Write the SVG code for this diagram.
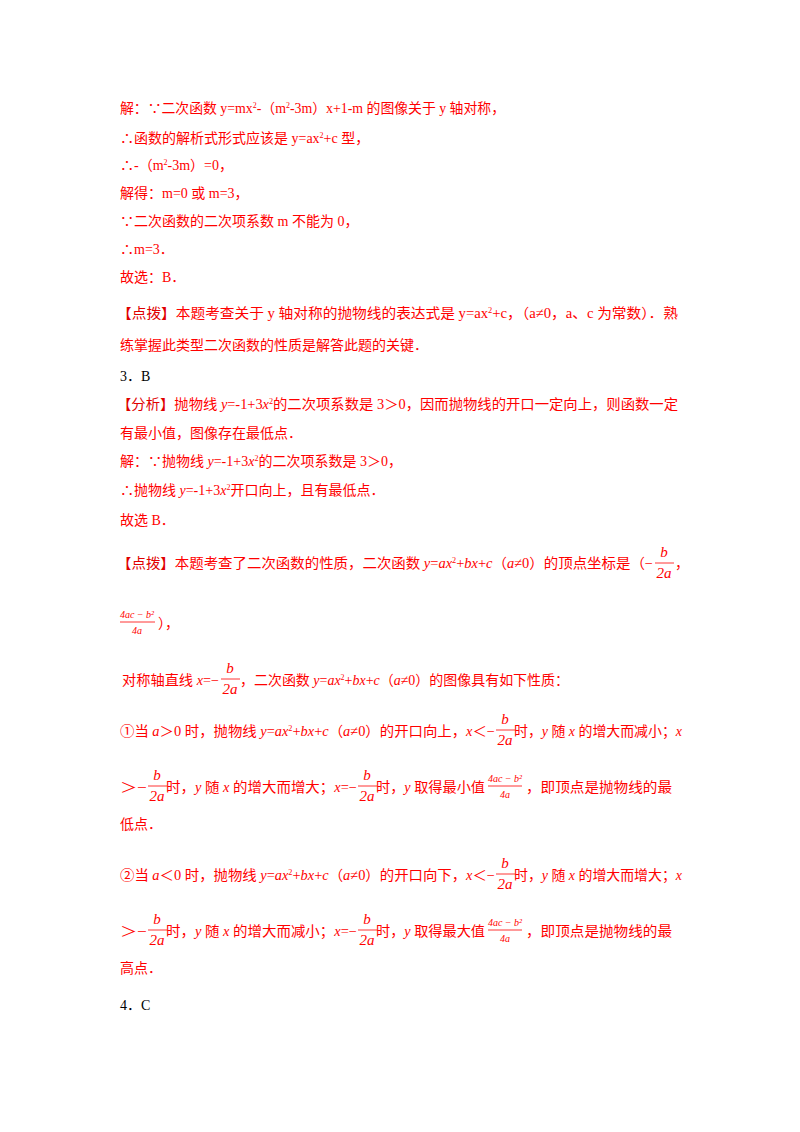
<svg xmlns="http://www.w3.org/2000/svg" width="800" height="1132" viewBox="0 0 800 1132">
<style>
text{font-family:"Liberation Serif","Noto Sans CJK SC",serif;font-size:14px;fill:#ff0000}
.k{fill:#000}
.i{font-style:italic}
.f{font-size:15px;text-anchor:middle;font-style:italic}
.s{font-size:10px;text-anchor:middle;font-style:italic}
.b{fill:#e00000}
line{stroke:#ff0000;stroke-width:0.8}
</style>
<rect width="800" height="1132" fill="#fff"/>
<text x="120" y="113" textLength="385" lengthAdjust="spacingAndGlyphs">解：∵二次函数 y=mx<tspan dy="-5" font-size="8">2</tspan><tspan dy="5">-（m</tspan><tspan dy="-5" font-size="8">2</tspan><tspan dy="5">-3m）x+1-m 的图像关于 y 轴对称，</tspan></text>
<text x="120" y="143">∴函数的解析式形式应该是 y=ax<tspan dy="-5" font-size="8">2</tspan><tspan dy="5">+c 型，</tspan></text>
<text x="120" y="170">∴-（m<tspan dy="-5" font-size="8">2</tspan><tspan dy="5">-3m）=0，</tspan></text>
<text x="120" y="198">解得：m=0 或 m=3，</text>
<text x="120" y="226">∵二次函数的二次项系数 m 不能为 0，</text>
<text x="120" y="254">∴m=3．</text>
<text x="120" y="282">故选：B．</text>
<text x="117" y="318" textLength="561" lengthAdjust="spacingAndGlyphs"><tspan class="b">【点拨】</tspan>本题考查关于 y 轴对称的抛物线的表达式是 y=ax<tspan dy="-5" font-size="8">2</tspan><tspan dy="5">+c，（a≠0，a、c 为常数）．熟</tspan></text>
<text x="120" y="350">练掌握此类型二次函数的性质是解答此题的关键．</text>
<text x="120" y="381" class="k">3．B</text>
<text x="117" y="409" textLength="561" lengthAdjust="spacingAndGlyphs"><tspan class="b">【分析】</tspan>抛物线 <tspan class="i">y</tspan>=-1+3<tspan class="i">x</tspan><tspan dy="-5" font-size="8">2</tspan><tspan dy="5">的二次项系数是 3＞0，因而抛物线的开口一定向上，则函数一定</tspan></text>
<text x="120" y="438">有最小值，图像存在最低点．</text>
<text x="120" y="466">解：∵抛物线 <tspan class="i">y</tspan>=-1+3<tspan class="i">x</tspan><tspan dy="-5" font-size="8">2</tspan><tspan dy="5">的二次项系数是 3＞0，</tspan></text>
<text x="120" y="495">∴抛物线 <tspan class="i">y</tspan>=-1+3<tspan class="i">x</tspan><tspan dy="-5" font-size="8">2</tspan><tspan dy="5">开口向上，且有最低点．</tspan></text>
<text x="120" y="525">故选 B．</text>

<text x="117" y="568" textLength="536" lengthAdjust="spacingAndGlyphs"><tspan class="b">【点拨】</tspan>本题考查了二次函数的性质，二次函数 <tspan class="i">y</tspan>=<tspan class="i">ax</tspan><tspan dy="-5" font-size="8">2</tspan><tspan dy="5">+</tspan><tspan class="i">bx</tspan>+<tspan class="i">c</tspan>（<tspan class="i">a</tspan>≠0）的顶点坐标是（−</text>
<text x="664" y="557" class="f">b</text><line x1="655" y1="563" x2="674" y2="563"/><text x="664" y="578" class="f">2a</text>
<text x="675" y="568">，</text>

<text x="137" y="618" class="s">4ac − b²</text><line x1="120" y1="622" x2="155" y2="622"/><text x="137" y="634" class="s">4a</text>
<text x="158" y="628">），</text>

<text x="122" y="685" textLength="97" lengthAdjust="spacingAndGlyphs">对称轴直线 <tspan class="i">x</tspan>=−</text>
<text x="230" y="673" class="f">b</text><line x1="221" y1="679" x2="240" y2="679"/><text x="230" y="694" class="f">2a</text>
<text x="240" y="685" textLength="329" lengthAdjust="spacingAndGlyphs">，二次函数 <tspan class="i">y</tspan>=<tspan class="i">ax</tspan><tspan dy="-5" font-size="8">2</tspan><tspan dy="5">+</tspan><tspan class="i">bx</tspan>+<tspan class="i">c</tspan>（<tspan class="i">a</tspan>≠0）的图像具有如下性质：</text>

<text x="120" y="736" textLength="375" lengthAdjust="spacingAndGlyphs">①当 <tspan class="i">a</tspan>＞0 时，抛物线 <tspan class="i">y</tspan>=<tspan class="i">ax</tspan><tspan dy="-5" font-size="8">2</tspan><tspan dy="5">+</tspan><tspan class="i">bx</tspan>+<tspan class="i">c</tspan>（<tspan class="i">a</tspan>≠0）的开口向上，<tspan class="i">x</tspan>＜−</text>
<text x="505" y="724" class="f">b</text><line x1="496" y1="730" x2="515" y2="730"/><text x="505" y="745" class="f">2a</text>
<text x="514" y="736" textLength="168" lengthAdjust="spacingAndGlyphs">时，<tspan class="i">y</tspan> 随 <tspan class="i">x</tspan> 的增大而减小；<tspan class="i">x</tspan></text>

<text x="120" y="792" textLength="27" lengthAdjust="spacingAndGlyphs">＞−</text>
<text x="157" y="780" class="f">b</text><line x1="148" y1="786" x2="167" y2="786"/><text x="157" y="801" class="f">2a</text>
<text x="166" y="792" textLength="191" lengthAdjust="spacingAndGlyphs">时，<tspan class="i">y</tspan> 随 <tspan class="i">x</tspan> 的增大而增大；<tspan class="i">x</tspan>=−</text>
<text x="367" y="780" class="f">b</text><line x1="358" y1="786" x2="377" y2="786"/><text x="367" y="801" class="f">2a</text>
<text x="376" y="792" textLength="109" lengthAdjust="spacingAndGlyphs">时，<tspan class="i">y</tspan> 取得最小值</text>
<text x="505" y="782" class="s">4ac − b²</text><line x1="488" y1="786" x2="522" y2="786"/><text x="505" y="798" class="s">4a</text>
<text x="526" y="792" textLength="146" lengthAdjust="spacingAndGlyphs">，即顶点是抛物线的最</text>
<text x="120" y="829">低点．</text>

<text x="120" y="880" textLength="375" lengthAdjust="spacingAndGlyphs">②当 <tspan class="i">a</tspan>＜0 时，抛物线 <tspan class="i">y</tspan>=<tspan class="i">ax</tspan><tspan dy="-5" font-size="8">2</tspan><tspan dy="5">+</tspan><tspan class="i">bx</tspan>+<tspan class="i">c</tspan>（<tspan class="i">a</tspan>≠0）的开口向下，<tspan class="i">x</tspan>＜−</text>
<text x="505" y="868" class="f">b</text><line x1="496" y1="874" x2="515" y2="874"/><text x="505" y="889" class="f">2a</text>
<text x="514" y="880" textLength="168" lengthAdjust="spacingAndGlyphs">时，<tspan class="i">y</tspan> 随 <tspan class="i">x</tspan> 的增大而增大；<tspan class="i">x</tspan></text>

<text x="120" y="936" textLength="27" lengthAdjust="spacingAndGlyphs">＞−</text>
<text x="157" y="924" class="f">b</text><line x1="148" y1="930" x2="167" y2="930"/><text x="157" y="945" class="f">2a</text>
<text x="166" y="936" textLength="191" lengthAdjust="spacingAndGlyphs">时，<tspan class="i">y</tspan> 随 <tspan class="i">x</tspan> 的增大而减小；<tspan class="i">x</tspan>=−</text>
<text x="367" y="924" class="f">b</text><line x1="358" y1="930" x2="377" y2="930"/><text x="367" y="945" class="f">2a</text>
<text x="376" y="936" textLength="109" lengthAdjust="spacingAndGlyphs">时，<tspan class="i">y</tspan> 取得最大值</text>
<text x="505" y="926" class="s">4ac − b²</text><line x1="488" y1="930" x2="522" y2="930"/><text x="505" y="942" class="s">4a</text>
<text x="526" y="936" textLength="146" lengthAdjust="spacingAndGlyphs">，即顶点是抛物线的最</text>
<text x="120" y="973">高点．</text>
<text x="120" y="1010" class="k">4．C</text>
</svg>
